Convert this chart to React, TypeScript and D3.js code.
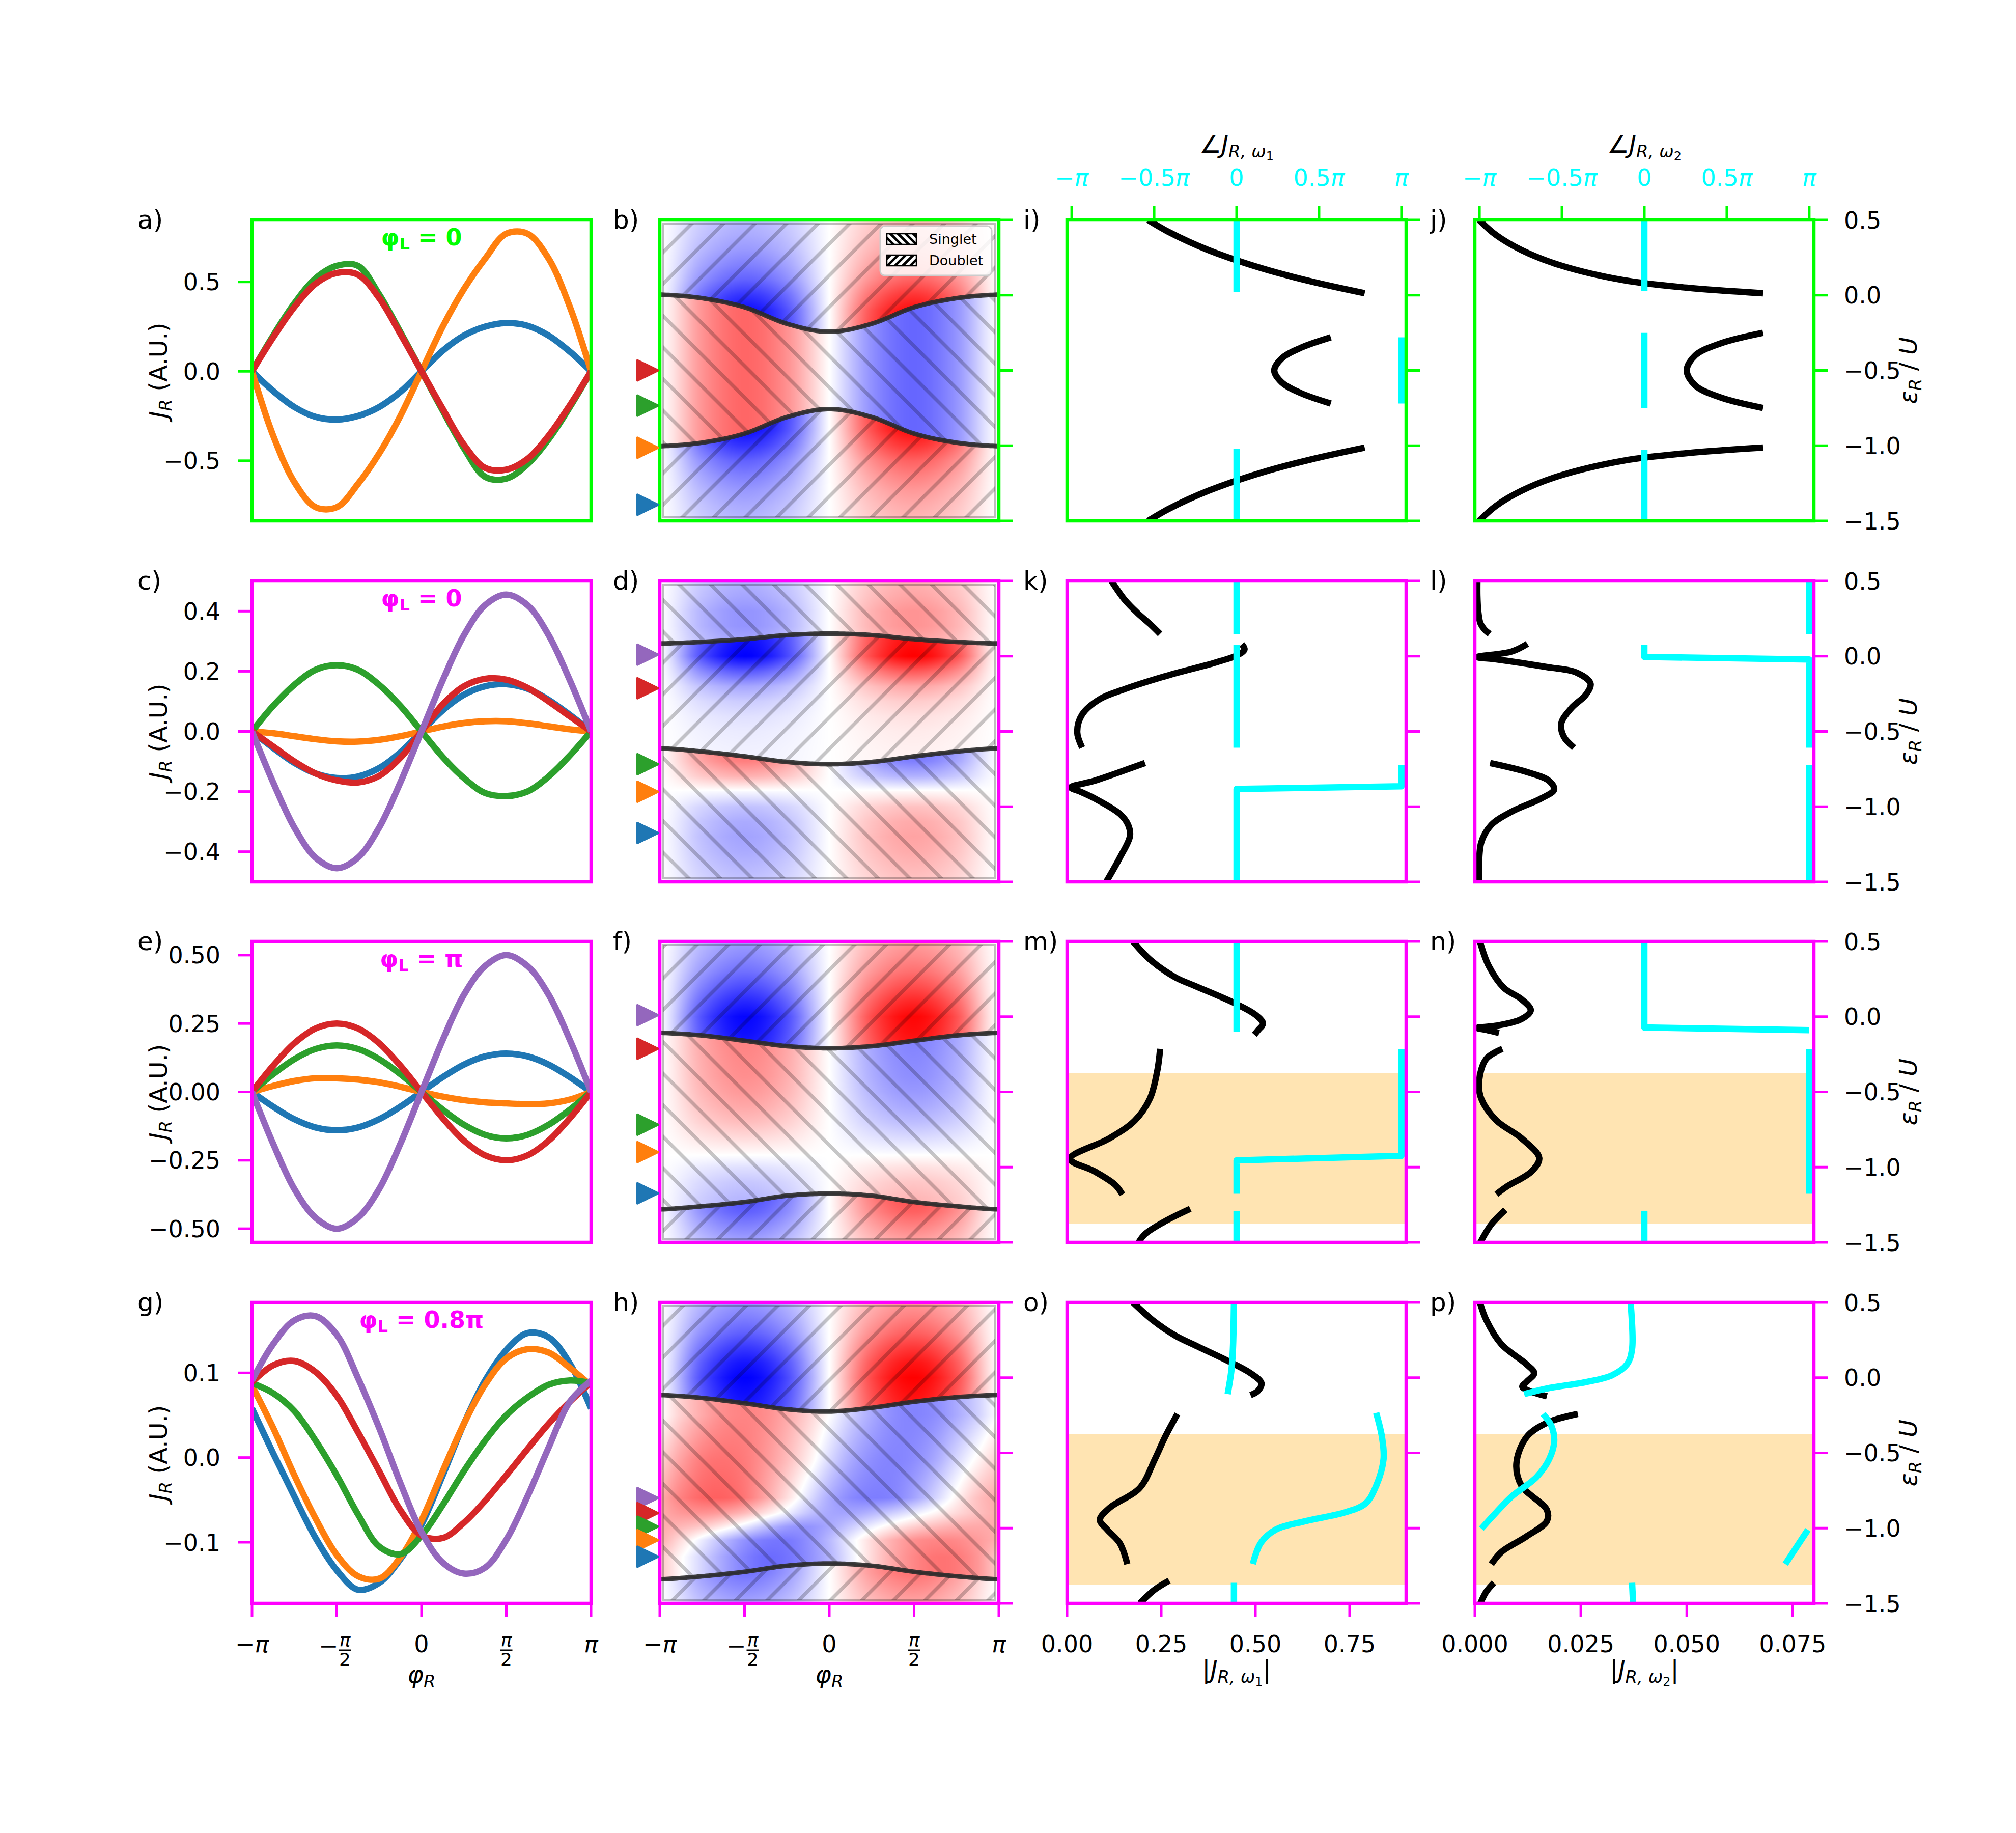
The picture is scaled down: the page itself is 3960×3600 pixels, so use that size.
import React, { useMemo } from "react";
import * as d3 from "d3";

const PI = Math.PI;
const FONT = "DejaVu Sans";

/* ---------------- layout ---------------- */
const COL_X = [495, 1296, 2096, 2897];
const ROW_Y = [432, 1141, 1849, 2558];
const PW = 666;
const PH = 591;
const FRAME = ["#00ff00", "#ff00ff", "#ff00ff", "#ff00ff"];
const CYAN = "#00ffff";
const TAB: Record<string, string> = { blue: "#1f77b4", orange: "#ff7f0e", green: "#2ca02c", red: "#d62728", purple: "#9467bd" };
const TICK_LEN = 27;
const TICK_W = 5;
const SPINE_W = 6.5;
const LINE_W = 12.5;

/* ---------------- column 1 data: J_R at φ_R = −π + kπ/8 (k = 0..16) ---------------- */
const aBlue = [0, -0.11, -0.2, -0.255, -0.27, -0.25, -0.2, -0.115, 0, 0.115, 0.2, 0.25, 0.27, 0.255, 0.2, 0.11, 0];
const aOrange = [0, -0.36, -0.62, -0.76, -0.76, -0.63, -0.46, -0.25, 0, 0.25, 0.46, 0.63, 0.77, 0.77, 0.63, 0.36, 0];
const aGreen = [0, 0.2, 0.38, 0.52, 0.59, 0.59, 0.43, 0.22, 0, -0.22, -0.43, -0.59, -0.6, -0.52, -0.38, -0.2, 0];
const aRed = [0, 0.19, 0.36, 0.49, 0.55, 0.54, 0.41, 0.21, 0, -0.21, -0.41, -0.54, -0.55, -0.49, -0.36, -0.19, 0];

const cBlue = [0, -0.055, -0.105, -0.14, -0.155, -0.15, -0.122, -0.07, 0, 0.07, 0.122, 0.15, 0.157, 0.142, 0.105, 0.055, 0];
const cOrange = [0, -0.006, -0.016, -0.026, -0.033, -0.034, -0.028, -0.016, 0, 0.016, 0.028, 0.034, 0.034, 0.027, 0.017, 0.007, 0];
const cGreen = [0, 0.085, 0.155, 0.205, 0.22, 0.205, 0.155, 0.085, 0, -0.085, -0.155, -0.205, -0.215, -0.2, -0.15, -0.08, 0];
const cRed = [0, -0.05, -0.1, -0.14, -0.163, -0.17, -0.148, -0.088, 0, 0.09, 0.15, 0.175, 0.172, 0.145, 0.1, 0.05, 0];
const cPurple = [0, -0.17, -0.32, -0.42, -0.455, -0.42, -0.32, -0.17, 0, 0.17, 0.32, 0.42, 0.455, 0.42, 0.32, 0.17, 0];

const eBlue = [0, -0.054, -0.1, -0.13, -0.14, -0.13, -0.1, -0.054, 0, 0.054, 0.1, 0.13, 0.14, 0.13, 0.1, 0.054, 0];
const eOrange = [0, 0.022, 0.04, 0.05, 0.05, 0.045, 0.035, 0.019, 0, -0.017, -0.03, -0.038, -0.042, -0.045, -0.042, -0.028, 0];
const eGreen = [0, 0.065, 0.12, 0.157, 0.17, 0.157, 0.12, 0.065, 0, -0.065, -0.12, -0.157, -0.17, -0.157, -0.12, -0.065, 0];
const eRed = [0, 0.096, 0.178, 0.232, 0.25, 0.232, 0.178, 0.096, 0, -0.096, -0.178, -0.232, -0.25, -0.232, -0.178, -0.096, 0];
const ePurple = [0, -0.19, -0.355, -0.46, -0.5, -0.46, -0.355, -0.19, 0, 0.19, 0.355, 0.46, 0.5, 0.46, 0.355, 0.19, 0];

const gBlue = [0.058, 0.005, -0.046, -0.095, -0.133, -0.156, -0.148, -0.12, -0.079, -0.021, 0.04, 0.091, 0.127, 0.147, 0.142, 0.111, 0.058];
const gOrange = [0.085, 0.035, -0.021, -0.072, -0.115, -0.14, -0.143, -0.118, -0.074, -0.016, 0.04, 0.086, 0.117, 0.128, 0.124, 0.106, 0.085];
const gGreen = [0.088, 0.076, 0.055, 0.02, -0.021, -0.067, -0.105, -0.114, -0.092, -0.056, -0.016, 0.02, 0.05, 0.071, 0.086, 0.091, 0.088];
const gRed = [0.089, 0.109, 0.114, 0.101, 0.073, 0.03, -0.016, -0.062, -0.092, -0.095, -0.077, -0.051, -0.021, 0.01, 0.04, 0.066, 0.089];
const gPurple = [0.091, 0.134, 0.162, 0.167, 0.145, 0.094, 0.035, -0.03, -0.088, -0.124, -0.137, -0.13, -0.097, -0.046, 0.012, 0.066, 0.091];

const COL1_SERIES = [
  [{ c: "blue", v: aBlue }, { c: "orange", v: aOrange }, { c: "green", v: aGreen }, { c: "red", v: aRed }],
  [{ c: "blue", v: cBlue }, { c: "orange", v: cOrange }, { c: "green", v: cGreen }, { c: "red", v: cRed }, { c: "purple", v: cPurple }],
  [{ c: "blue", v: eBlue }, { c: "orange", v: eOrange }, { c: "green", v: eGreen }, { c: "red", v: eRed }, { c: "purple", v: ePurple }],
  [{ c: "blue", v: gBlue }, { c: "orange", v: gOrange }, { c: "green", v: gGreen }, { c: "red", v: gRed }, { c: "purple", v: gPurple }],
];
const COL1_TICKS = [
  [-0.5, 0, 0.5],
  [-0.4, -0.2, 0, 0.2, 0.4],
  [-0.5, -0.25, 0, 0.25, 0.5],
  [-0.1, 0, 0.1],
];
const COL1_DECIMALS = [1, 1, 2, 1];
const PHI_L_LABELS = ["0", "0", "π", "0.8π"];
const PANEL_LETTERS = [
  ["a)", "b)", "i)", "j)"],
  ["c)", "d)", "k)", "l)"],
  ["e)", "f)", "m)", "n)"],
  ["g)", "h)", "o)", "p)"],
];

/* ---------------- column 2 data (heat maps) ---------------- */
// boundaries at φ = −π + kπ/4 (k = 0..8); amplitudes at ε = 0.5, 0.4, …, −1.5
const PHI_SHAPE = [0, 0.7, 1, 0.72, 0, -0.72, -1, -0.7, 0];

const bUpper = [0.004, -0.02, -0.08, -0.19, -0.243, -0.19, -0.08, -0.02, 0.004];
const bLower = [-1.004, -0.98, -0.92, -0.81, -0.757, -0.81, -0.92, -0.98, -1.004];
const bTop = [-0.28, -0.33, -0.4, -0.5, -0.62, -0.8, -0.95, -1, -1, -1, -1, -1, -1, -1, -1, -1, -1, -1, -1, -1, -1];
const bMid = [0.6, 0.6, 0.6, 0.6, 0.6, 0.6, 0.6, 0.6, 0.6, 0.6, 0.6, 0.6, 0.6, 0.6, 0.6, 0.6, 0.6, 0.6, 0.6, 0.6, 0.6];
const bBot = [-1, -1, -1, -1, -1, -1, -1, -1, -1, -1, -1, -1, -1, -1, -0.95, -0.8, -0.62, -0.5, -0.4, -0.33, -0.28];

const dUpper = [0.084, 0.095, 0.113, 0.14, 0.15, 0.14, 0.113, 0.095, 0.084];
const dLower = [-0.612, -0.634, -0.666, -0.703, -0.718, -0.703, -0.666, -0.634, -0.612];
const dTop = [-0.3, -0.35, -0.42, -0.42, -0.35, -0.3, -0.3, -0.3, -0.3, -0.3, -0.3, -0.3, -0.3, -0.3, -0.3, -0.3, -0.3, -0.3, -0.3, -0.3, -0.3];
const dMid = [-0.9, -0.9, -0.9, -0.95, -0.95, -1.0, -0.65, -0.35, -0.2, -0.12, -0.08, -0.06, -0.05, -0.05, -0.05, -0.05, -0.05, -0.05, -0.05, -0.05, -0.05];
const dBot = [0.6, 0.6, 0.6, 0.6, 0.6, 0.6, 0.6, 0.6, 0.6, 0.6, 0.6, 0.6, 0.5, 0.3, -0.03, -0.24, -0.33, -0.36, -0.33, -0.28, -0.23];

const fUpper = [-0.107, -0.125, -0.16, -0.196, -0.21, -0.196, -0.16, -0.125, -0.107];
const fLower = [-1.281, -1.26, -1.232, -1.19, -1.176, -1.19, -1.232, -1.26, -1.281];
const fTop = [-0.38, -0.46, -0.56, -0.7, -0.85, -0.98, -0.95, -0.9, -0.9, -0.9, -0.9, -0.9, -0.9, -0.9, -0.9, -0.9, -0.9, -0.9, -0.9, -0.9, -0.9];
const fMid = [0.5, 0.5, 0.5, 0.5, 0.5, 0.5, 0.5, 0.48, 0.46, 0.44, 0.4, 0.34, 0.26, 0.15, 0.03, -0.12, -0.22, -0.28, -0.3, -0.3, -0.3];
const fBot = [-0.7, -0.7, -0.7, -0.7, -0.7, -0.7, -0.7, -0.7, -0.7, -0.7, -0.7, -0.7, -0.7, -0.7, -0.7, -0.7, -0.7, -0.7, -0.62, -0.48, -0.35];

const hUpper = [-0.115, -0.135, -0.17, -0.21, -0.225, -0.2, -0.16, -0.13, -0.115];
const hLower = [-1.34, -1.32, -1.29, -1.25, -1.235, -1.25, -1.29, -1.32, -1.34];
const hTop = [-0.4, -0.5, -0.62, -0.78, -0.92, -1, -0.95, -0.9, -0.9, -0.9, -0.9, -0.9, -0.9, -0.9, -0.9, -0.9, -0.9, -0.9, -0.9, -0.9, -0.9];
const hMid = [0.45, 0.45, 0.45, 0.45, 0.45, 0.45, 0.45, 0.45, 0.42, 0.38, 0.3, 0.2, 0.1, 0.02, -0.06, -0.14, -0.22, -0.28, -0.3, -0.3, -0.3];
const hBot = [-0.6, -0.6, -0.6, -0.6, -0.6, -0.6, -0.6, -0.6, -0.6, -0.6, -0.6, -0.6, -0.6, -0.6, -0.6, -0.6, -0.6, -0.6, -0.55, -0.45, -0.35];
// middle band of h: cuts of J_R(φ_R) (17 φ samples) at the marked ε levels
const hMidUpperCut = [0.0, 0.05, 0.09, 0.12, 0.13, 0.12, 0.09, 0.05, 0.0, -0.05, -0.09, -0.12, -0.13, -0.12, -0.09, -0.05, 0.0];
const hMidMiddleCut = [0.05, 0.1, 0.14, 0.15, 0.14, 0.11, 0.07, 0.02, -0.04, -0.09, -0.12, -0.13, -0.12, -0.09, -0.04, 0.01, 0.05];
const hMidEps = [-0.25, -0.55, -0.8, -0.9, -0.99, -1.08, -1.19];
const hMidCuts = [hMidUpperCut, hMidMiddleCut, gPurple, gRed, gGreen, gOrange, gBlue];
const hMidVmax = 0.27;

const HEAT: any[] = [
  { upper: bUpper, lower: bLower, top: bTop, mid: bMid, bot: bBot, hatch: ["D", "S", "D"] },
  { upper: dUpper, lower: dLower, top: dTop, mid: dMid, bot: dBot, hatch: ["S", "D", "S"] },
  { upper: fUpper, lower: fLower, top: fTop, mid: fMid, bot: fBot, hatch: ["D", "S", "D"] },
  { upper: hUpper, lower: hLower, top: hTop, mid: hMid, bot: hBot, hatch: ["D", "S", "D"], cutEps: hMidEps, cuts: hMidCuts, cutVmax: hMidVmax },
];

const MARKERS = [
  [["red", -0.5], ["green", -0.734], ["orange", -1.014], ["blue", -1.393]],
  [["purple", 0.01], ["red", -0.213], ["green", -0.718], ["orange", -0.901], ["blue", -1.175]],
  [["purple", 0.01], ["red", -0.213], ["green", -0.718], ["orange", -0.9], ["blue", -1.174]],
  [["purple", -0.8], ["red", -0.9], ["green", -0.99], ["orange", -1.08], ["blue", -1.19]],
] as [string, number][][];

/* ---------------- columns 3/4 data: |J| (black) and ∠J (cyan) vs ε ---------------- */
type Seg = { eps: number[]; v: number[]; lin?: boolean };

const iBlack: Seg[] = [
  { eps: [0.5, 0.42, 0.3, 0.18, 0.09, 0.013], v: [0.215, 0.27, 0.375, 0.515, 0.65, 0.79] },
  { eps: [-0.28, -0.35, -0.42, -0.5, -0.58, -0.65, -0.72], v: [0.7, 0.62, 0.57, 0.55, 0.57, 0.62, 0.7] },
  { eps: [-1.013, -1.09, -1.18, -1.3, -1.42, -1.5], v: [0.79, 0.65, 0.515, 0.375, 0.27, 0.215] },
];
const iCyan: Seg[] = [
  { eps: [0.5, 0.02], v: [0, 0] },
  { eps: [-0.28, -0.72], v: [PI, PI] },
  { eps: [-1.02, -1.5], v: [0, 0] },
];
const jBlack: Seg[] = [
  { eps: [0.5, 0.4, 0.3, 0.2, 0.1, 0.05, 0.013], v: [0.001, 0.005, 0.011, 0.02, 0.035, 0.05, 0.068] },
  { eps: [-0.25, -0.32, -0.4, -0.5, -0.6, -0.68, -0.75], v: [0.068, 0.058, 0.052, 0.05, 0.052, 0.058, 0.068] },
  { eps: [-1.013, -1.05, -1.1, -1.2, -1.3, -1.4, -1.5], v: [0.068, 0.05, 0.035, 0.02, 0.011, 0.005, 0.001] },
];
const jCyan: Seg[] = [
  { eps: [0.5, 0.03], v: [0, 0] },
  { eps: [-0.25, -0.75], v: [0, 0] },
  { eps: [-1.03, -1.5], v: [0, 0] },
];
const kBlack: Seg[] = [
  { eps: [0.5, 0.375, 0.287, 0.214, 0.148], v: [0.118, 0.153, 0.187, 0.22, 0.247] },
  { eps: [0.079, 0.045, 0.008, -0.043, -0.124, -0.219, -0.285, -0.388, -0.505, -0.608], v: [0.464, 0.471, 0.453, 0.393, 0.273, 0.153, 0.087, 0.04, 0.027, 0.04] },
  { eps: [-0.71, -0.77, -0.83, -0.872, -0.9, -0.945, -1.048, -1.12, -1.195, -1.34, -1.5], v: [0.207, 0.14, 0.07, 0.01, 0.035, 0.073, 0.14, 0.162, 0.167, 0.14, 0.104] },
];
const kCyan: Seg[] = [
  { eps: [0.5, 0.148], v: [0, 0] },
  { eps: [0.074, -0.608], v: [0, 0] },
  { eps: [-0.725, -0.865, -0.882, -1.5], v: [PI, PI, 0, 0], lin: true },
];
const lBlack: Seg[] = [
  { eps: [0.5, 0.4, 0.3, 0.22, 0.18, 0.148], v: [0.0006, 0.0006, 0.0008, 0.0013, 0.0022, 0.0035] },
  { eps: [0.082, 0.031, -0.006, -0.021, -0.072, -0.109, -0.182, -0.256, -0.344, -0.446, -0.535, -0.608], v: [0.0124, 0.0087, 0.0006, 0.0051, 0.0169, 0.024, 0.0273, 0.0262, 0.0228, 0.0204, 0.021, 0.0234] },
  { eps: [-0.71, -0.769, -0.828, -0.887, -0.945, -1.033, -1.121, -1.239, -1.5], v: [0.0036, 0.0122, 0.0175, 0.0187, 0.0157, 0.0087, 0.0039, 0.0015, 0.001] },
];
const lCyan: Seg[] = [
  { eps: [0.5, 0.148], v: [PI, PI] },
  { eps: [0.074, -0.005, -0.022, -0.608], v: [0, 0, PI, PI], lin: true },
  { eps: [-0.725, -1.5], v: [PI, PI] },
];
const mBlack: Seg[] = [
  { eps: [0.5, 0.38, 0.262, 0.204, 0.087, 0.013, -0.045, -0.09, -0.12], v: [0.175, 0.22, 0.287, 0.34, 0.447, 0.5, 0.52, 0.507, 0.497] },
  { eps: [-0.214, -0.353, -0.544, -0.69, -0.808, -0.945, -1.028, -1.116, -1.182], v: [0.247, 0.24, 0.22, 0.18, 0.113, 0.008, 0.073, 0.127, 0.147] },
  { eps: [-1.277, -1.36, -1.445, -1.5], v: [0.327, 0.26, 0.207, 0.19] },
];
const mCyan: Seg[] = [
  { eps: [0.5, -0.1], v: [0, 0] },
  { eps: [-0.214, -0.925, -0.955, -1.177], v: [PI, PI, 0, 0], lin: true },
  { eps: [-1.29, -1.5], v: [0, 0] },
];
const nBlack: Seg[] = [
  { eps: [0.5, 0.336, 0.19, 0.116, 0.043, -0.016, -0.06, -0.075, -0.09, -0.108], v: [0.0012, 0.0033, 0.0069, 0.011, 0.0132, 0.011, 0.0051, 0.0006, 0.003, 0.0057] },
  { eps: [-0.214, -0.28, -0.427, -0.544, -0.69, -0.808, -0.94, -1.028, -1.13, -1.18], v: [0.0065, 0.0027, 0.001, 0.0015, 0.0051, 0.011, 0.0152, 0.0134, 0.0075, 0.0051] },
  { eps: [-1.284, -1.38, -1.5], v: [0.0072, 0.0039, 0.0013] },
];
const nCyan: Seg[] = [
  { eps: [0.5, -0.072, -0.09], v: [0, 0, PI], lin: true },
  { eps: [-0.214, -1.177], v: [PI, PI] },
  { eps: [-1.29, -1.5], v: [0, 0] },
];
const oBlack: Seg[] = [
  { eps: [0.5, 0.383, 0.28, 0.207, 0.104, 0.03, -0.036, -0.087, -0.116], v: [0.175, 0.227, 0.287, 0.347, 0.433, 0.487, 0.516, 0.507, 0.487] },
  { eps: [-0.241, -0.395, -0.542, -0.733, -0.865, -0.945, -1.011, -1.1, -1.239], v: [0.293, 0.26, 0.233, 0.193, 0.113, 0.087, 0.107, 0.14, 0.16] },
  { eps: [-1.349, -1.408, -1.5], v: [0.271, 0.233, 0.193] },
];
const oCyan: Seg[] = [
  { eps: [0.5, 0.19, 0.045, -0.109], v: [-0.05, -0.07, -0.1, -0.17] },
  { eps: [-0.234, -0.395, -0.542, -0.718, -0.835, -0.894, -0.953, -1.011, -1.099, -1.238], v: [2.66, 2.77, 2.8, 2.66, 2.46, 2.08, 1.32, 0.74, 0.46, 0.31] },
  { eps: [-1.363, -1.5], v: [-0.05, -0.05] },
];
const pBlack: Seg[] = [
  { eps: [0.5, 0.383, 0.221, 0.089, 0.03, -0.028, -0.06, -0.09, -0.124], v: [0.0012, 0.0027, 0.0063, 0.0122, 0.014, 0.0122, 0.0112, 0.013, 0.017] },
  { eps: [-0.241, -0.3, -0.395, -0.571, -0.718, -0.879, -0.953, -1.055, -1.158, -1.239], v: [0.0243, 0.017, 0.0122, 0.0098, 0.011, 0.017, 0.017, 0.0122, 0.0063, 0.0039] },
  { eps: [-1.363, -1.422, -1.5], v: [0.0045, 0.0027, 0.0013] },
];
const pCyan: Seg[] = [
  { eps: [0.5, 0.192, 0.089, 0.016, -0.028, -0.072, -0.109], v: [-0.263, -0.234, -0.33, -0.617, -1.096, -1.86, -2.29] },
  { eps: [-0.241, -0.322, -0.424, -0.542, -0.659, -0.791, -0.894, -1.004], v: [-1.93, -1.77, -1.718, -1.814, -2.05, -2.53, -2.82, -3.106] },
  { eps: [-1.011, -1.239], v: [3.116, 2.685] },
  { eps: [-1.363, -1.5], v: [-0.234, -0.215] },
];

const RES_BLACK = [[iBlack, jBlack], [kBlack, lBlack], [mBlack, nBlack], [oBlack, pBlack]];
const RES_CYAN = [[iCyan, jCyan], [kCyan, lCyan], [mCyan, nCyan], [oCyan, pCyan]];
const BAND_ROWS = [false, false, true, true];
const BAND = [-1.375, -0.375];

const EPS_TICKS = [0.5, 0, -0.5, -1, -1.5];
const ABS1_TICKS = [0, 0.25, 0.5, 0.75];
const ABS2_TICKS = [0, 0.025, 0.05, 0.075];
const ABS_MAX = [0.9, 0.08];
const ANGLE_LIM = 3.23;
const ANGLE_TICKS = [-PI, -PI / 2, 0, PI / 2, PI];
const ANGLE_LABELS = ["−π", "−0.5π", "0", "0.5π", "π"];
const PHI_TICKS = [-PI, -PI / 2, 0, PI / 2, PI];

/* ---------------- helpers ---------------- */
const PHI17 = d3.range(17).map((k) => -PI + (k * PI) / 8);
const fmt = (v: number, d: number) => (v < 0 ? "\u2212" : "") + Math.abs(v).toFixed(d);

function nodeInterp(vals: number[], phi: number) {
  const n = vals.length - 1;
  const u = ((phi + PI) / (2 * PI)) * n;
  let i = Math.floor(u);
  if (i < 0) i = 0;
  if (i > n - 1) i = n - 1;
  const t = u - i;
  const g = (j: number) => vals[Math.max(0, Math.min(n, j))];
  const p0 = g(i - 1), p1 = g(i), p2 = g(i + 1), p3 = g(i + 2);
  return 0.5 * (2 * p1 + (-p0 + p2) * t + (2 * p0 - 5 * p1 + 4 * p2 - p3) * t * t + (-p0 + 3 * p1 - 3 * p2 + p3) * t * t * t);
}
function lerpLevels(arr: number[], eps: number) {
  const u = (0.5 - eps) / 0.1;
  const i = Math.max(0, Math.min(arr.length - 2, Math.floor(u)));
  const t = Math.max(0, Math.min(1, u - i));
  return arr[i] * (1 - t) + arr[i + 1] * t;
}
function lerpCuts(epsList: number[], vals: number[], eps: number) {
  if (eps >= epsList[0]) return vals[0];
  for (let i = 0; i < epsList.length - 1; i++) {
    if (eps >= epsList[i + 1]) {
      const t = (epsList[i] - eps) / (epsList[i] - epsList[i + 1]);
      return vals[i] * (1 - t) + vals[i + 1] * t;
    }
  }
  return vals[vals.length - 1];
}
function makeHeat(p: any, w: number, h: number) {
  const canvas = document.createElement("canvas");
  canvas.width = w;
  canvas.height = h;
  const ctx = canvas.getContext("2d")!;
  const img = ctx.createImageData(w, h);
  for (let px = 0; px < w; px++) {
    const phi = -PI + ((px + 0.5) / w) * 2 * PI;
    const up = nodeInterp(p.upper, phi);
    const lo = nodeInterp(p.lower, phi);
    const s = nodeInterp(PHI_SHAPE, phi);
    const cutVals = p.cuts ? p.cuts.map((c: number[]) => nodeInterp(c, phi) / p.cutVmax) : null;
    for (let py = 0; py < h; py++) {
      const eps = 0.5 - ((py + 0.5) / h) * 2;
      let v: number;
      if (eps > up) v = lerpLevels(p.top, eps) * s;
      else if (eps > lo) v = cutVals ? lerpCuts(p.cutEps, cutVals, eps) : lerpLevels(p.mid, eps) * s;
      else v = lerpLevels(p.bot, eps) * s;
      v = Math.max(-1, Math.min(1, v));
      const k = (py * w + px) * 4;
      if (v < 0) {
        img.data[k] = Math.round(255 * (1 + v));
        img.data[k + 1] = Math.round(255 * (1 + v));
        img.data[k + 2] = 255;
      } else {
        img.data[k] = 255;
        img.data[k + 1] = Math.round(255 * (1 - v));
        img.data[k + 2] = Math.round(255 * (1 - v));
      }
      img.data[k + 3] = 255;
    }
  }
  ctx.putImageData(img, 0, 0);
  return canvas.toDataURL();
}

/* ---------------- small text pieces ---------------- */
function PiText({ x, y, label, fill = "#000", size = 46 }: any) {
  const idx = label.indexOf("π");
  if (idx < 0)
    return (
      <text x={x} y={y} textAnchor="middle" fontSize={size} fill={fill}>
        {label}
      </text>
    );
  return (
    <text x={x} y={y} textAnchor="middle" fontSize={size} fill={fill}>
      {label.slice(0, idx)}
      <tspan fontStyle="italic">π</tspan>
    </text>
  );
}
function PhiTickLabel({ x, y, i }: { x: number; y: number; i: number }) {
  if (i === 0) return <PiText x={x} y={y} label="−π" />;
  if (i === 2) return <PiText x={x} y={y} label="0" />;
  if (i === 4) return <PiText x={x} y={y} label="π" />;
  const fx = i === 1 ? x + 16 : x;
  return (
    <g>
      {i === 1 && (
        <text x={x + 3} y={y + 3} textAnchor="end" fontSize={46}>
          −
        </text>
      )}
      <text x={fx} y={y - 11} textAnchor="middle" fontSize={36} fontStyle="italic">
        π
      </text>
      <line x1={fx - 12} x2={fx + 12} y1={y - 4} y2={y - 4} stroke="#000" strokeWidth={3} />
      <text x={fx} y={y + 27} textAnchor="middle" fontSize={36}>
        2
      </text>
    </g>
  );
}

/* ---------------- column 1 panel ---------------- */
function Col1({ row }: { row: number }) {
  const x0 = COL_X[0], y0 = ROW_Y[row];
  const series = COL1_SERIES[row];
  const all = series.flatMap((s) => s.v);
  const lo = d3.min(all)!, hi = d3.max(all)!, m = (hi - lo) * 0.05;
  const xs = d3.scaleLinear().domain([-PI, PI]).range([x0, x0 + PW]);
  const ys = d3.scaleLinear().domain([lo - m, hi + m]).range([y0 + PH, y0]);
  const line = d3
    .line<number>()
    .x((_, i) => xs(PHI17[i]))
    .y((v) => ys(v))
    .curve(d3.curveCatmullRom.alpha(0.5));
  const id = `clip-${row}-0`;
  const color = FRAME[row];
  return (
    <g>
      <defs>
        <clipPath id={id}>
          <rect x={x0} y={y0} width={PW} height={PH} />
        </clipPath>
      </defs>
      <g clipPath={`url(#${id})`}>
        {series.map((s, i) => (
          <path key={i} d={line(s.v)!} fill="none" stroke={TAB[s.c]} strokeWidth={LINE_W} />
        ))}
      </g>
      <rect x={x0} y={y0} width={PW} height={PH} fill="none" stroke={color} strokeWidth={SPINE_W} />
      {COL1_TICKS[row].map((t, i) => (
        <g key={i}>
          <line x1={x0} x2={x0 - TICK_LEN} y1={ys(t)} y2={ys(t)} stroke={color} strokeWidth={TICK_W} />
          <text x={x0 - TICK_LEN - 35} y={ys(t)} dy="0.36em" textAnchor="end" fontSize={46}>
            {fmt(t, COL1_DECIMALS[row])}
          </text>
        </g>
      ))}
      {row === 3 &&
        PHI_TICKS.map((t, i) => (
          <g key={"b" + i}>
            <line x1={xs(t)} x2={xs(t)} y1={y0 + PH} y2={y0 + PH + TICK_LEN} stroke={color} strokeWidth={TICK_W} />
            <PhiTickLabel x={xs(t)} y={3245} i={i} />
          </g>
        ))}
      <text transform={`translate(328,${y0 + PH / 2}) rotate(-90)`} textAnchor="middle" fontSize={48} style={{ whiteSpace: "pre" }}>
        <tspan fontStyle="italic">J</tspan>
        <tspan fontStyle="italic" fontSize={34} dy={9}>
          R
        </tspan>
        <tspan dy={-9}> (A.U.)</tspan>
      </text>
      <text x={x0 + PW / 2} y={y0 + 50} textAnchor="middle" fontSize={46} fontWeight="bold" fill={color} style={{ whiteSpace: "pre" }}>
        φ
        <tspan fontSize={32} dy={8}>
          L
        </tspan>
        <tspan dy={-8}>{" = " + PHI_L_LABELS[row]}</tspan>
      </text>
    </g>
  );
}

/* ---------------- column 2 panel ---------------- */
function HeatPanel({ row }: { row: number }) {
  const p = HEAT[row];
  const x0 = COL_X[1], y0 = ROW_Y[row];
  const xs = d3.scaleLinear().domain([-PI, PI]).range([x0, x0 + PW]);
  const ys = d3.scaleLinear().domain([-1.5, 0.5]).range([y0 + PH, y0]);
  const url = useMemo(() => makeHeat(p, PW, PH), [row]);
  const N = 160;
  const phis = d3.range(N + 1).map((i) => -PI + (2 * PI * i) / N);
  const ins = 7;
  const L = x0 + ins, R = x0 + PW - ins, T = y0 + ins, B = y0 + PH - ins;
  const cl = (x: number) => Math.max(L, Math.min(R, x));
  const upPts = phis.map((f) => [cl(xs(f)), ys(nodeInterp(p.upper, f))] as [number, number]);
  const loPts = phis.map((f) => [cl(xs(f)), ys(nodeInterp(p.lower, f))] as [number, number]);
  const pts = (a: [number, number][]) => a.map((q) => `L${q[0].toFixed(1)},${q[1].toFixed(1)}`).join(" ");
  const topPath = `M${L},${T} ${pts(upPts)} L${R},${T} Z`;
  const midPath = `M${upPts[0][0]},${upPts[0][1]} ${pts(upPts)} ${pts([...loPts].reverse())} Z`;
  const botPath = `M${L},${B} ${pts(loPts)} L${R},${B} Z`;
  const bline = d3.line();
  const fullUp = phis.map((f) => [xs(f), ys(nodeInterp(p.upper, f))] as [number, number]);
  const fullLo = phis.map((f) => [xs(f), ys(nodeInterp(p.lower, f))] as [number, number]);
  const color = FRAME[row];
  const id = `clip-${row}-1`;
  const hatchUrl = (h: string) => (h === "S" ? "url(#hatchS)" : "url(#hatchD)");
  return (
    <g>
      <defs>
        <clipPath id={id}>
          <rect x={x0} y={y0} width={PW} height={PH} />
        </clipPath>
      </defs>
      <image href={url} x={x0} y={y0} width={PW} height={PH} preserveAspectRatio="none" />
      <g clipPath={`url(#${id})`}>
        {[topPath, midPath, botPath].map((d, i) => (
          <path key={i} d={d} fill={hatchUrl(p.hatch[i])} stroke="rgba(0,0,0,0.25)" strokeWidth={4} />
        ))}
        <path d={bline(fullUp)!} fill="none" stroke="#2b2b2b" strokeOpacity={0.9} strokeWidth={9} />
        <path d={bline(fullLo)!} fill="none" stroke="#2b2b2b" strokeOpacity={0.9} strokeWidth={9} />
      </g>
      <rect x={x0} y={y0} width={PW} height={PH} fill="none" stroke={color} strokeWidth={SPINE_W} />
      {EPS_TICKS.map((t, i) => (
        <line key={i} x1={x0 + PW} x2={x0 + PW + TICK_LEN} y1={ys(t)} y2={ys(t)} stroke={color} strokeWidth={TICK_W} />
      ))}
      {MARKERS[row].map(([c, e], i) => (
        <path
          key={"m" + i}
          d={`M${x0 - 3},${ys(e)} L${x0 - 44},${ys(e) - 20} L${x0 - 44},${ys(e) + 20} Z`}
          fill={TAB[c]}
          stroke={TAB[c]}
          strokeWidth={4}
          strokeLinejoin="round"
        />
      ))}
      {row === 3 &&
        PHI_TICKS.map((t, i) => (
          <g key={"b" + i}>
            <line x1={xs(t)} x2={xs(t)} y1={y0 + PH} y2={y0 + PH + TICK_LEN} stroke={color} strokeWidth={TICK_W} />
            <PhiTickLabel x={xs(t)} y={3245} i={i} />
          </g>
        ))}
      {row === 0 && (
        <g>
          <rect x={1729} y={444} width={219} height={97} rx={9} fill="#fff" fillOpacity={0.85} stroke="#cccccc" strokeWidth={3} />
          <rect x={1742} y={459} width={58} height={21} fill="url(#legS)" stroke="#000" strokeWidth={2.5} />
          <rect x={1742} y={501} width={58} height={21} fill="url(#legD)" stroke="#000" strokeWidth={2.5} />
          <text x={1825} y={479} fontSize={27}>
            Singlet
          </text>
          <text x={1825} y={521} fontSize={27}>
            Doublet
          </text>
        </g>
      )}
    </g>
  );
}

/* ---------------- columns 3/4 panel ---------------- */
function ResPanel({ row, col }: { row: number; col: number }) {
  const x0 = COL_X[col], y0 = ROW_Y[row];
  const k = col - 2;
  const xs = d3.scaleLinear().domain([0, ABS_MAX[k]]).range([x0, x0 + PW]);
  const xa = d3.scaleLinear().domain([-ANGLE_LIM, ANGLE_LIM]).range([x0, x0 + PW]);
  const ys = d3.scaleLinear().domain([-1.5, 0.5]).range([y0 + PH, y0]);
  const color = FRAME[row];
  const id = `clip-${row}-${col}`;
  const mk = (sx: any, s: Seg) =>
    d3
      .line<number>()
      .x((_, i) => sx(s.v[i]))
      .y((e) => ys(e))
      .curve(s.lin ? d3.curveLinear : d3.curveCatmullRom.alpha(0.5))(s.eps)!;
  const absTicks = k === 0 ? ABS1_TICKS : ABS2_TICKS;
  const absDec = k === 0 ? 2 : 3;
  return (
    <g>
      <defs>
        <clipPath id={id}>
          <rect x={x0} y={y0} width={PW} height={PH} />
        </clipPath>
      </defs>
      <g clipPath={`url(#${id})`}>
        {BAND_ROWS[row] && (
          <rect x={x0} y={ys(BAND[1])} width={PW} height={ys(BAND[0]) - ys(BAND[1])} fill="orange" fillOpacity={0.3} />
        )}
        {RES_BLACK[row][k].map((s, i) => (
          <path key={"k" + i} d={mk(xs, s)} fill="none" stroke="#000" strokeWidth={LINE_W} strokeLinejoin="round" />
        ))}
        {RES_CYAN[row][k].map((s, i) => (
          <path key={"c" + i} d={mk(xa, s)} fill="none" stroke={CYAN} strokeWidth={LINE_W} strokeLinejoin="round" />
        ))}
      </g>
      <rect x={x0} y={y0} width={PW} height={PH} fill="none" stroke={color} strokeWidth={SPINE_W} />
      {EPS_TICKS.map((t, i) => (
        <g key={"r" + i}>
          <line x1={x0 + PW} x2={x0 + PW + TICK_LEN} y1={ys(t)} y2={ys(t)} stroke={color} strokeWidth={TICK_W} />
          {col === 3 && (
            <text x={x0 + PW + TICK_LEN + 32} y={ys(t)} dy="0.36em" fontSize={46}>
              {fmt(t, 1)}
            </text>
          )}
        </g>
      ))}
      {col === 3 && (
        <text transform={`translate(3765,${y0 + PH / 2}) rotate(-90)`} textAnchor="middle" fontSize={48} style={{ whiteSpace: "pre" }}>
          <tspan fontStyle="italic">ε</tspan>
          <tspan fontStyle="italic" fontSize={34} dy={9}>
            R
          </tspan>
          <tspan dy={-9}> / </tspan>
          <tspan fontStyle="italic">U</tspan>
        </text>
      )}
      {row === 0 && (
        <g>
          {ANGLE_TICKS.map((t, i) => (
            <g key={"t" + i}>
              <line x1={xa(t)} x2={xa(t)} y1={y0} y2={y0 - TICK_LEN} stroke={color} strokeWidth={TICK_W} />
              <PiText x={xa(t)} y={365} label={ANGLE_LABELS[i]} fill={CYAN} />
            </g>
          ))}
          <text x={x0 + PW / 2} y={300} textAnchor="middle" fontSize={48} style={{ whiteSpace: "pre" }}>
            ∠<tspan fontStyle="italic">J</tspan>
            <tspan fontStyle="italic" fontSize={34} dy={9}>
              R, ω
            </tspan>
            <tspan fontSize={24} dy={6}>
              {k === 0 ? "1" : "2"}
            </tspan>
          </text>
        </g>
      )}
      {row === 3 && (
        <g>
          {absTicks.map((t, i) => (
            <g key={"b" + i}>
              <line x1={xs(t)} x2={xs(t)} y1={y0 + PH} y2={y0 + PH + TICK_LEN} stroke={color} strokeWidth={TICK_W} />
              <text x={xs(t)} y={3245} textAnchor="middle" fontSize={46}>
                {t.toFixed(absDec)}
              </text>
            </g>
          ))}
          <text x={x0 + PW / 2} y={3296} textAnchor="middle" fontSize={48} style={{ whiteSpace: "pre" }}>
            |<tspan fontStyle="italic">J</tspan>
            <tspan fontStyle="italic" fontSize={34} dy={9}>
              R, ω
            </tspan>
            <tspan fontSize={24} dy={6}>
              {k === 0 ? "1" : "2"}
            </tspan>
            <tspan dy={-15}>|</tspan>
          </text>
        </g>
      )}
    </g>
  );
}

/* ---------------- app ---------------- */
export default function App() {
  const S = 62;
  const LS = 15;
  const rows = [0, 1, 2, 3];
  return (
    <svg
      width={3960}
      height={3600}
      viewBox="0 0 3960 3600"
      style={{ position: "absolute", left: 0, top: 0 }}
      fontFamily={FONT}
    >
      <defs>
        <pattern id="hatchD" patternUnits="userSpaceOnUse" width={S} height={S}>
          <path
            d={`M${-S / 2},${S / 2} L${S / 2},${-S / 2} M0,${S} L${S},0 M${S / 2},${1.5 * S} L${1.5 * S},${S / 2}`}
            stroke="rgba(0,0,0,0.22)"
            strokeWidth={7}
          />
        </pattern>
        <pattern id="hatchS" patternUnits="userSpaceOnUse" width={S} height={S}>
          <path
            d={`M${-S / 2},${S / 2} L${S / 2},${1.5 * S} M0,0 L${S},${S} M${S / 2},${-S / 2} L${1.5 * S},${S / 2}`}
            stroke="rgba(0,0,0,0.22)"
            strokeWidth={7}
          />
        </pattern>
        <pattern id="legD" patternUnits="userSpaceOnUse" width={LS} height={LS}>
          <rect width={LS} height={LS} fill="#fff" />
          <path
            d={`M${-LS / 2},${LS / 2} L${LS / 2},${-LS / 2} M0,${LS} L${LS},0 M${LS / 2},${1.5 * LS} L${1.5 * LS},${LS / 2}`}
            stroke="#000"
            strokeWidth={5}
          />
        </pattern>
        <pattern id="legS" patternUnits="userSpaceOnUse" width={LS} height={LS}>
          <rect width={LS} height={LS} fill="#fff" />
          <path
            d={`M${-LS / 2},${LS / 2} L${LS / 2},${1.5 * LS} M0,0 L${LS},${LS} M${LS / 2},${-LS / 2} L${1.5 * LS},${LS / 2}`}
            stroke="#000"
            strokeWidth={5}
          />
        </pattern>
      </defs>
      <rect x={0} y={0} width={3960} height={3600} fill="#fff" />
      {rows.map((r) => (
        <g key={r}>
          <Col1 row={r} />
          <HeatPanel row={r} />
          <ResPanel row={r} col={2} />
          <ResPanel row={r} col={3} />
          <text x={270} y={ROW_Y[r] + 17} fontSize={50}>
            {PANEL_LETTERS[r][0]}
          </text>
          <text x={COL_X[1] - 92} y={ROW_Y[r] + 17} fontSize={50}>
            {PANEL_LETTERS[r][1]}
          </text>
          <text x={COL_X[2] - 86} y={ROW_Y[r] + 17} fontSize={50}>
            {PANEL_LETTERS[r][2]}
          </text>
          <text x={COL_X[3] - 88} y={ROW_Y[r] + 17} fontSize={50}>
            {PANEL_LETTERS[r][3]}
          </text>
        </g>
      ))}
      <text x={COL_X[0] + PW / 2} y={3305} textAnchor="middle" fontSize={48}>
        <tspan fontStyle="italic">φ</tspan>
        <tspan fontStyle="italic" fontSize={34} dy={9}>
          R
        </tspan>
      </text>
      <text x={COL_X[1] + PW / 2} y={3305} textAnchor="middle" fontSize={48}>
        <tspan fontStyle="italic">φ</tspan>
        <tspan fontStyle="italic" fontSize={34} dy={9}>
          R
        </tspan>
      </text>
    </svg>
  );
}
